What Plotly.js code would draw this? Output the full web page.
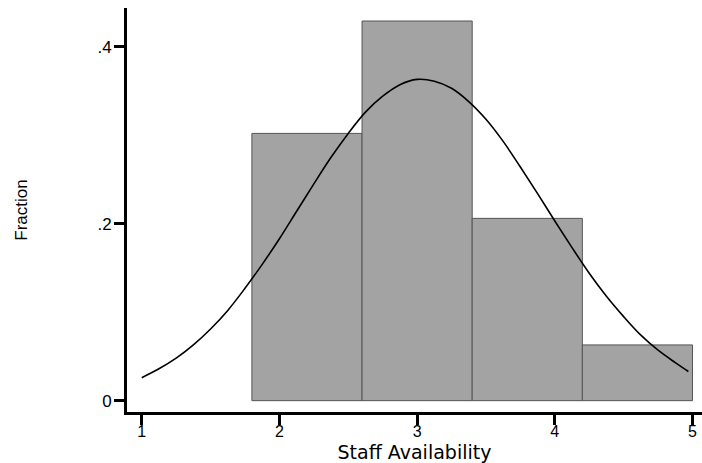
<!DOCTYPE html>
<html>
<head>
<meta charset="utf-8">
<script src="https://cdn.plot.ly/plotly-3.0.1.min.js"></script>
<style>
  html, body { margin: 0; padding: 0; background: #fff; }
  #chart { width: 702px; height: 463px; }
</style>
</head>
<body>
<div id="chart"></div>
<script>
// Histogram of staff availability scores (fraction of respondents per bin)
const binStart = [1.8, 2.6, 3.4, 4.2];
const binWidth = [0.8, 0.8, 0.8, 0.8];
const fraction = [0.302, 0.429, 0.206, 0.063];

// Overlaid normal density curve, scaled to the bin fractions
const curveX = [1.0, 1.125, 1.25, 1.375, 1.5, 1.625, 1.75, 1.875, 2.0, 2.125, 2.25, 2.375, 2.5, 2.625, 2.75, 2.875,
                3.0, 3.125, 3.25, 3.375, 3.5, 3.625, 3.75, 3.875, 4.0, 4.125, 4.25, 4.375, 4.5, 4.625, 4.75, 4.875, 4.97];
const curveY = [0.026, 0.036, 0.048, 0.063, 0.081, 0.102, 0.127, 0.154, 0.183, 0.214, 0.245, 0.275, 0.302, 0.326, 0.344, 0.357,
                0.363, 0.361, 0.353, 0.338, 0.318, 0.293, 0.264, 0.234, 0.203, 0.173, 0.144, 0.118, 0.095, 0.074, 0.057, 0.043, 0.033];

// Axis ticks
const xTickVals = [1, 2, 3, 4, 5];
const xTickText = ['1', '2', '3', '4', '5'];
const yTickVals = [0, 0.2, 0.4];
const yTickText = ['0', '.2', '.4'];

const traces = [
  {
    type: 'bar',
    x: binStart,
    y: fraction,
    width: binWidth,
    offset: 0,
    marker: { color: '#a3a3a3', line: { color: '#555555', width: 1 } },
    hoverinfo: 'skip'
  },
  {
    type: 'scatter',
    mode: 'lines',
    x: curveX,
    y: curveY,
    line: { color: '#000', width: 1.6, shape: 'spline', smoothing: 1 },
    hoverinfo: 'skip'
  }
];

const layout = {
  width: 702,
  height: 463,
  margin: { l: 127, r: 0, t: 8, b: 51 },
  paper_bgcolor: '#fff',
  plot_bgcolor: '#fff',
  showlegend: false,
  font: { family: 'Liberation Sans, Arial, sans-serif', color: '#000' },
  xaxis: {
    range: [0.893, 5.069],
    tickvals: xTickVals,
    ticktext: xTickText,
    ticks: 'outside',
    ticklen: 10,
    tickwidth: 3,
    tickcolor: '#000',
    ticklabelstandoff: -7,
    tickfont: { size: 16, color: '#000', family: 'Liberation Sans, Arial, sans-serif' },
    showline: true,
    linewidth: 3,
    linecolor: '#000',
    showgrid: false,
    zeroline: false,
    title: {
      text: 'Staff Availability',
      font: { size: 19, color: '#000', family: 'DejaVu Sans, sans-serif' },
      standoff: 11
    }
  },
  yaxis: {
    range: [-0.0128, 0.4437],
    tickvals: yTickVals,
    ticktext: yTickText,
    ticks: 'outside',
    ticklen: 10,
    tickwidth: 3,
    tickcolor: '#000',
    ticklabelstandoff: -1,
    tickfont: { size: 17, color: '#000', family: 'Liberation Sans, Arial, sans-serif' },
    showline: true,
    linewidth: 3,
    linecolor: '#000',
    showgrid: false,
    zeroline: false,
    title: {
      text: 'Fraction',
      font: { size: 17, color: '#000', family: 'Liberation Sans, Arial, sans-serif' },
      standoff: 66
    }
  }
};

Plotly.newPlot('chart', traces, layout, { displayModeBar: false, staticPlot: true });
</script>
</body>
</html>
